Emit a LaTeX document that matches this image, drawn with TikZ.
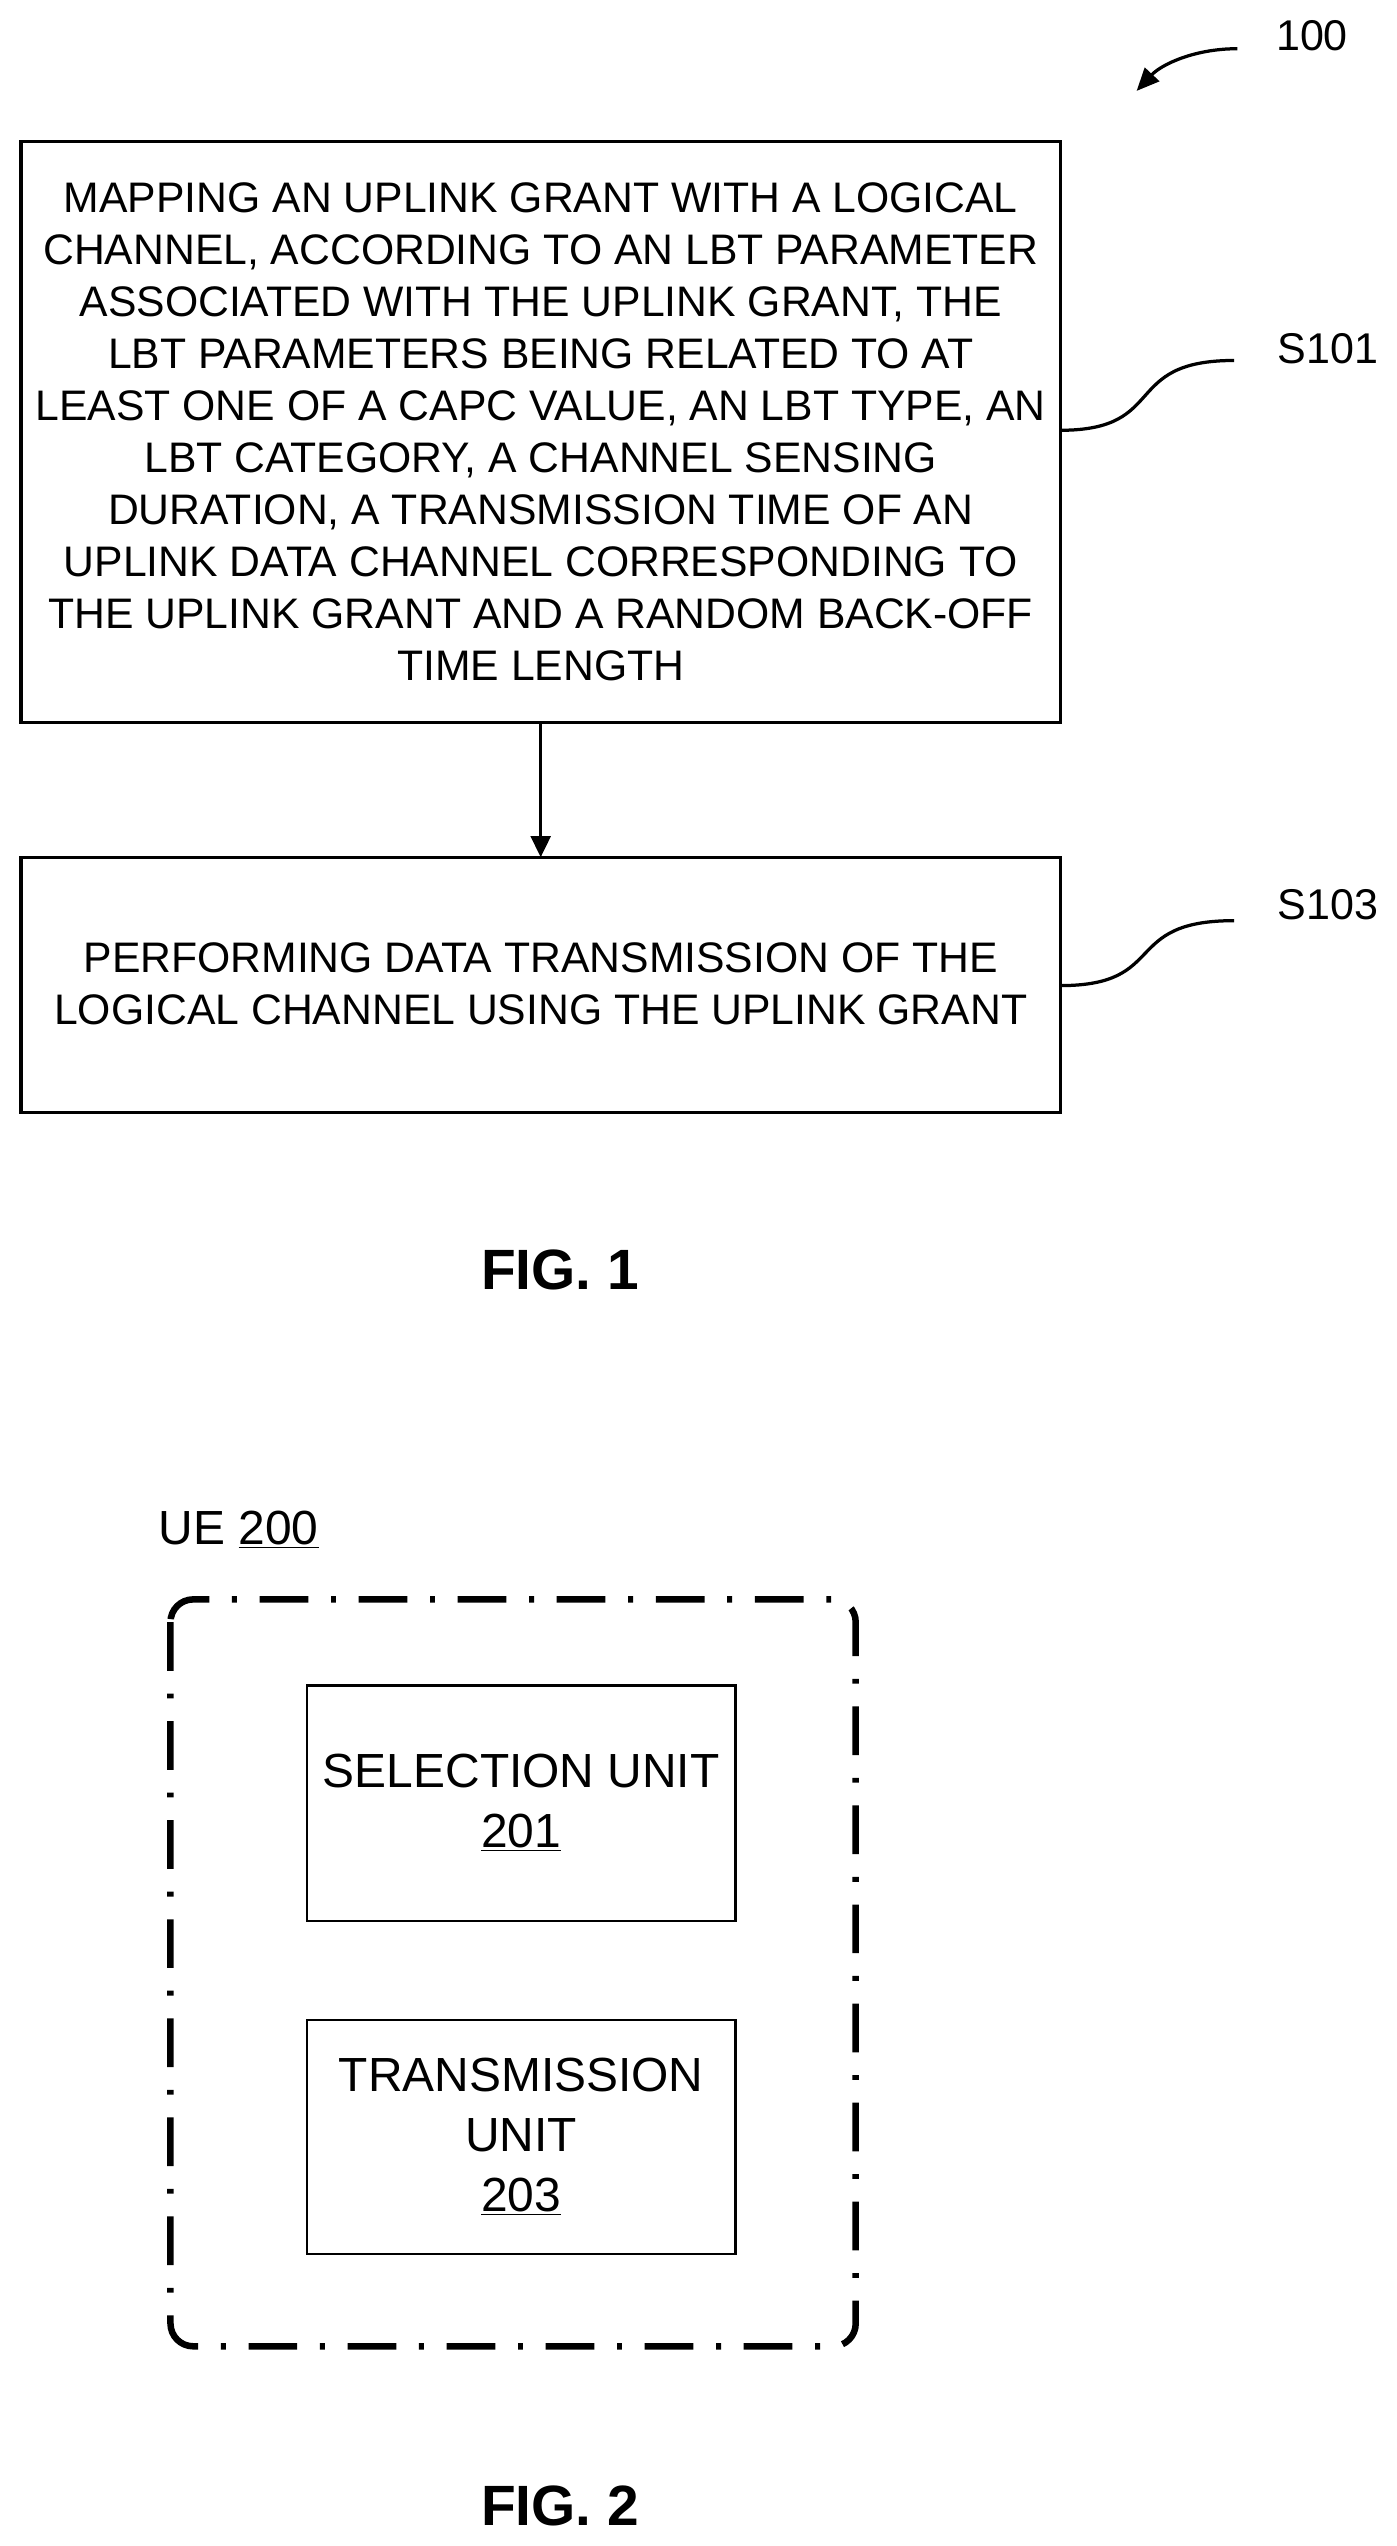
\documentclass[tikz,border=0pt]{standalone}
\usepackage{fontspec}
\setmainfont{Liberation Sans}
\usetikzlibrary{arrows.meta}
\begin{document}
\begin{tikzpicture}[x=1pt,y=-1pt,
 box/.style={draw,line width=2pt},
 btxt/.style={align=center,font=\fontsize{26.3}{32}\selectfont},
 utxt/.style={align=center,font=\fontsize{29.5}{37}\selectfont},
 lab/.style={font=\fontsize{26.5}{28}\selectfont},
 fig/.style={font=\bfseries\fontsize{35}{38}\selectfont}]
\useasboundingbox (0,0) rectangle (860,1568);
\draw[box] (13,87) rectangle (653,445);
\node[btxt] (t1) at (333,266) {MAPPING AN UPLINK GRANT WITH A LOGICAL\\CHANNEL, ACCORDING TO AN LBT PARAMETER\\ASSOCIATED WITH THE UPLINK GRANT, THE\\LBT PARAMETERS BEING RELATED TO AT\\LEAST ONE OF A CAPC VALUE, AN LBT TYPE, AN\\LBT CATEGORY, A CHANNEL SENSING\\DURATION, A TRANSMISSION TIME OF AN\\UPLINK DATA CHANNEL CORRESPONDING TO\\THE UPLINK GRANT AND A RANDOM BACK-OFF\\TIME LENGTH};
\draw[box] (13,528) rectangle (653,685);
\node[btxt] (t2) at (333,606) {PERFORMING DATA TRANSMISSION OF THE\\LOGICAL CHANNEL USING THE UPLINK GRANT};
\coordinate (b1) at (333,445); \coordinate (b2) at (333,528);
\draw[line width=2.2pt,-{Triangle[length=13pt,width=12pt]}] (b1) -- (b2);
\node[lab] (s101) at (818,215) {S101};
\node[lab] (s103) at (818,557) {S103};
\node[lab] (n100) at (808,22) {100};
\coordinate (c1) at (653,265); \coordinate (c2) at (760,222);
\draw[line width=2pt] (c1) .. controls (720,265) and (690,222) .. (c2);
\coordinate (d1) at (653,607); \coordinate (d2) at (760,567);
\draw[line width=2pt] (d1) .. controls (720,607) and (690,567) .. (d2);
\coordinate (a1) at (762,30); \coordinate (a2) at (700,56);
\draw[line width=2pt,-{Triangle[length=14pt,width=12pt]}] (a1) .. controls (735,30) and (715,40) .. (a2);
\node[fig] (f1) at (345,782) {FIG. 1};
\node[lab,font=\fontsize{29.5}{30}\selectfont] (ue) at (147,942) {UE \underline{200}};
\draw[line width=4pt,rounded corners=14pt,dash pattern=on 30pt off 14pt on 3pt off 14pt] (105,985) rectangle (527,1445);
\draw[line width=1.4pt] (189,1038) rectangle (453,1183);
\node[utxt] (su) at (321,1110) {SELECTION UNIT\\\underline{201}};
\draw[line width=1.4pt] (189,1244) rectangle (453,1388);
\node[utxt] (tu) at (321,1316) {TRANSMISSION\\UNIT\\\underline{203}};
\node[fig] (f2) at (345,1543) {FIG. 2};
\end{tikzpicture}
\end{document}
